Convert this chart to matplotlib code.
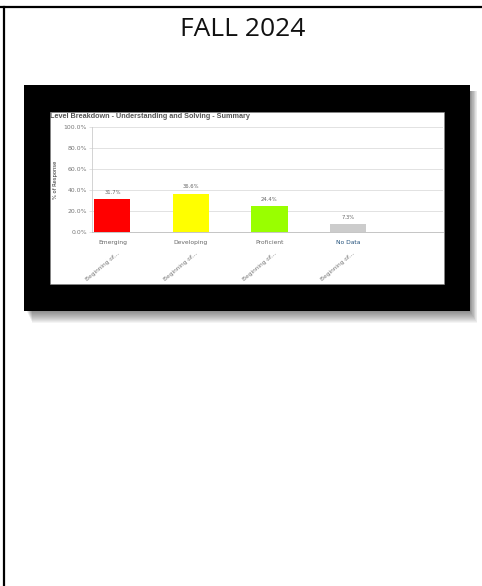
import matplotlib
matplotlib.use("Agg")
import matplotlib.pyplot as plt
from matplotlib.patches import Rectangle
from matplotlib.lines import Line2D

# ---- data ----
categories = ["Emerging", "Developing", "Proficient", "No Data"]
values = [31.7, 36.6, 24.4, 7.3]
sub_labels = ["Beginning of...", "Beginning of...", "Beginning of...", "Beginning of..."]
bar_colors = ["#ff0000", "#ffff00", "#99ff00", "#cccccc"]
yticks = [0, 20, 40, 60, 80, 100]
heading = "FALL 2024"
chart_title = "Level Breakdown - Understanding and Solving - Summary"
y_label = "% of Response"

W, H = 482, 586
fig = plt.figure(figsize=(W / 100, H / 100), dpi=100)
fig.patch.set_facecolor("white")


def fx(x):
    return x / W


def fy(y):
    return 1 - y / H


def rect_px(x0, y0, x1, y1, **kw):
    fig.patches.append(Rectangle((fx(x0), fy(y1)), fx(x1) - fx(x0), fy(y0) - fy(y1),
                                 transform=fig.transFigure, figure=fig, **kw))


# table cell borders
fig.lines.append(Line2D([0, 1], [fy(7.2), fy(7.2)], transform=fig.transFigure,
                        color="black", lw=1.6, figure=fig))
fig.lines.append(Line2D([fx(4.2), fx(4.2)], [fy(7), 0], transform=fig.transFigure,
                        color="black", lw=1.6, figure=fig))

# heading
fig.text(fx(243), fy(29), heading, ha="center", va="center", fontsize=19,
         family=["Open Sans", "DejaVu Sans"], color="#111111")

# shadow of the image
for k in range(12, 0, -1):
    rect_px(24 + 2 + k * 0.5, 85 + 6, 470 + k * 0.6, 311 + k * 1.0,
            facecolor="black", edgecolor="none", alpha=0.045, zorder=1)
# black frame
rect_px(24, 85, 470, 311, facecolor="black", edgecolor="none", zorder=2)
# white chart area
rect_px(50, 112, 444, 284, facecolor="white", edgecolor="#888888", lw=0.4, zorder=3)

# chart title
fig.text(fx(50.5), fy(117), chart_title, ha="left", va="center", fontsize=5.2,
         fontweight="bold", family=["Liberation Sans Narrow", "Liberation Sans", "DejaVu Sans"],
         color="#555555", zorder=5)

# y label
fig.text(fx(56), fy(180), y_label, ha="center", va="center", rotation=90, fontsize=3.8,
         family=["DejaVu Sans"], color="#333333", zorder=5)

# plot axes
ax = fig.add_axes([fx(92), fy(232), fx(443) - fx(92), fy(127) - fy(232)], zorder=6)
ax.patch.set_alpha(0)
x = list(range(len(categories)))
ax.bar(x, values, width=0.46, color=bar_colors, zorder=3)
ax.set_xlim(-0.26, 4.21)
ax.set_ylim(0, 100)
ax.set_yticks(yticks)
ax.set_yticklabels([f"{v:.1f}%" for v in yticks], fontsize=4.4, color="#777777",
                   family="DejaVu Sans")
ax.grid(axis="y", color="#dddddd", lw=0.6, zorder=0)
for s in ["top", "right"]:
    ax.spines[s].set_visible(False)
ax.spines["left"].set_color("#cccccc")
ax.spines["left"].set_linewidth(0.6)
ax.spines["bottom"].set_color("#bbbbbb")
ax.spines["bottom"].set_linewidth(0.6)
ax.tick_params(axis="y", length=2, width=0.4, color="#cccccc", pad=1.5)
ax.set_xticks(x)
ax.set_xticklabels(categories, fontsize=4.3, family="DejaVu Sans")
for lbl, c in zip(ax.get_xticklabels(), categories):
    lbl.set_color("#1f4e79" if c == "No Data" else "#666666")
ax.tick_params(axis="x", length=0, pad=6)

for xi, v in zip(x, values):
    ax.annotate(f"{v:.1f}%", (xi, v), xytext=(0, 3), textcoords="offset points",
                ha="center", va="bottom", fontsize=3.8, color="#666666", family="DejaVu Sans")

for xi, s in zip(x, sub_labels):
    ax.annotate(s, (xi, 0), xytext=(5.5, -14), textcoords="offset points",
                ha="right", va="top", rotation=40, fontsize=4.2, color="#777777",
                family="DejaVu Sans", annotation_clip=False)

fig.savefig("out.png", dpi=100, facecolor="white")
